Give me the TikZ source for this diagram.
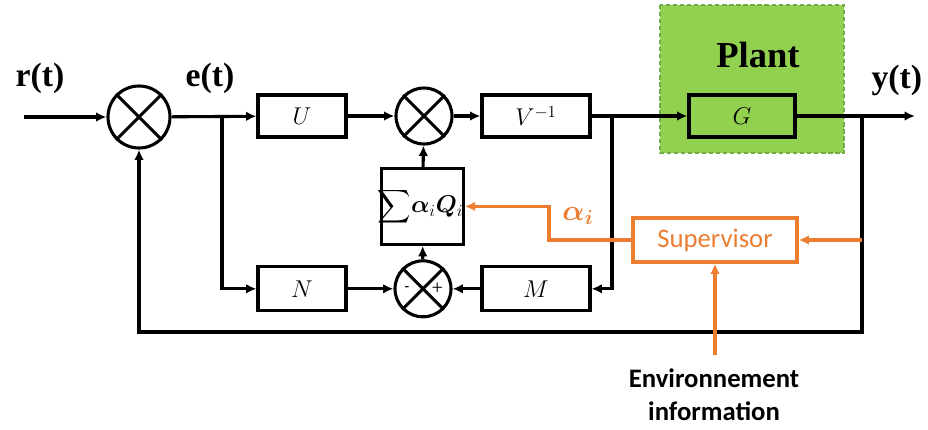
\documentclass[tikz,border=0pt]{standalone}
\usepackage{amsmath,amssymb,bm}
\usepackage{fontspec}
\setmainfont{Liberation Serif}
\newfontfamily\calib{Carlito}
\usepackage{xcolor}
\usetikzlibrary{arrows.meta}
\definecolor{orng}{HTML}{ED7D31}
\definecolor{plantgreen}{HTML}{92D050}
\definecolor{plantedge}{HTML}{70AD47}
\tikzset{
  blk/.style={draw,line width=2.2pt,minimum height=1.05cm,font=\fontsize{18}{21}\selectfont},
  sumj/.style={draw,circle,line width=2.2pt,minimum size=1.4cm,inner sep=0pt},
  sig/.style={line width=2.2pt,-{Latex[length=2.6mm,width=2.4mm]}},
  wire/.style={line width=2.2pt},
  sup/.style={line width=2.2pt,orng,-{Latex[length=2.6mm,width=2.4mm]}},
  lbl/.style={font=\fontsize{24}{27}\selectfont\bfseries}
}
\newcommand{\crossit}[1]{\draw[wire] (#1.north west) -- (#1.south east) (#1.north east) -- (#1.south west);}

\begin{document}
\begin{tikzpicture}
\useasboundingbox (0,0) rectangle (23.2,-10.725);
% plant
\draw[plantedge,fill=plantgreen,dash pattern=on 3pt off 2pt,line width=1.6pt] (16.5,-0.125) rectangle (21.1,-3.825);
\node[lbl,font=\fontsize{26}{29}\selectfont\bfseries] (plant) at (18.95,-1.375) {Plant};
% blocks
\node[sumj,minimum size=1.55cm] (s1) at (3.475,-2.925) {}; \crossit{s1}
\node[blk,minimum width=2.2cm] (U) at (7.55,-2.9) {$U$};
\node[sumj] (s2) at (10.6,-2.9) {}; \crossit{s2}
\node[blk,minimum width=2.7cm] (V) at (13.4,-2.9) {$V^{-1}$};
\node[blk,minimum width=2.65cm] (G) at (18.55,-2.9) {$G$};
\node[blk,minimum width=2.0cm,minimum height=1.9cm,inner sep=0pt,font=\fontsize{16.5}{19}\selectfont] (Q) at (10.56,-5.16) {$\displaystyle\!\sum\!\bm{\alpha}_i\bm{Q}_i$};
\node[blk,minimum width=2.2cm,minimum height=1.1cm] (N) at (7.55,-7.22) {$N$};
\node[sumj] (s3) at (10.575,-7.22) {}; \crossit{s3}
\node[font=\normalsize\bfseries] at ([xshift=-0.4cm]s3.center) {-};
\node[font=\Large] at ([xshift=0.36cm]s3.center) {+};
\node[blk,minimum width=2.7cm,minimum height=1.1cm] (M) at (13.4,-7.22) {$M$};
\node[draw=orng,line width=2.2pt,minimum width=4.1cm,minimum height=1.1cm,text=orng,font=\calib\fontsize{19}{22}\selectfont] (sv) at (17.875,-6.0) {Supervisor};
% labels
\node[lbl] (r) at (1.0,-1.95) {r(t)};
\node[lbl] (e) at (5.25,-1.95) {e(t)};
\node[lbl] (y) at (22.42,-2.0) {y(t)};
\node[orng,font=\fontsize{22}{25}\selectfont] (al) at (14.45,-5.4) {$\bm{\alpha_i}$};
\node[font=\calib\bfseries\fontsize{19}{24}\selectfont,align=center] (env) at (17.85,-9.87) {Environnement\\information};
% coordinates
\coordinate (in) at (0.6,-2.925);
\coordinate (out) at (22.875,-2.9);
\coordinate (eb) at (5.55,-2.9);
\coordinate (vb) at (15.3,-2.9);
\coordinate (yb) at (21.55,-2.9);
\coordinate (fb) at (21.55,-8.3);
\coordinate (ys) at (21.55,-6.0);
\coordinate (ab) at (13.725,-5.16);
\coordinate (es) at (17.875,-8.875);
% signals
\draw[sig] (in) -- (s1);
\draw[sig] (s1) -- (U);
\draw[sig] (U) -- (s2);
\draw[sig] (s2) -- (V);
\draw[sig] (V) -- (G);
\draw[sig] (G) -- (out);
\draw[sig] (eb) |- (N);
\draw[sig] (N) -- (s3);
\draw[sig] (M) -- (s3);
\draw[sig] (vb) |- (M.east);
\draw[sig] (s3) -- (Q);
\draw[sig] (Q) -- (s2);
\draw[sig] (yb) -- (fb) -| (s1);
% supervisor
\draw[sup] (es) -- (sv);
\draw[sup] (ys) -- (sv);
\draw[sup] (sv.west) -| (ab) -- (Q.east);
\end{tikzpicture}
\end{document}
